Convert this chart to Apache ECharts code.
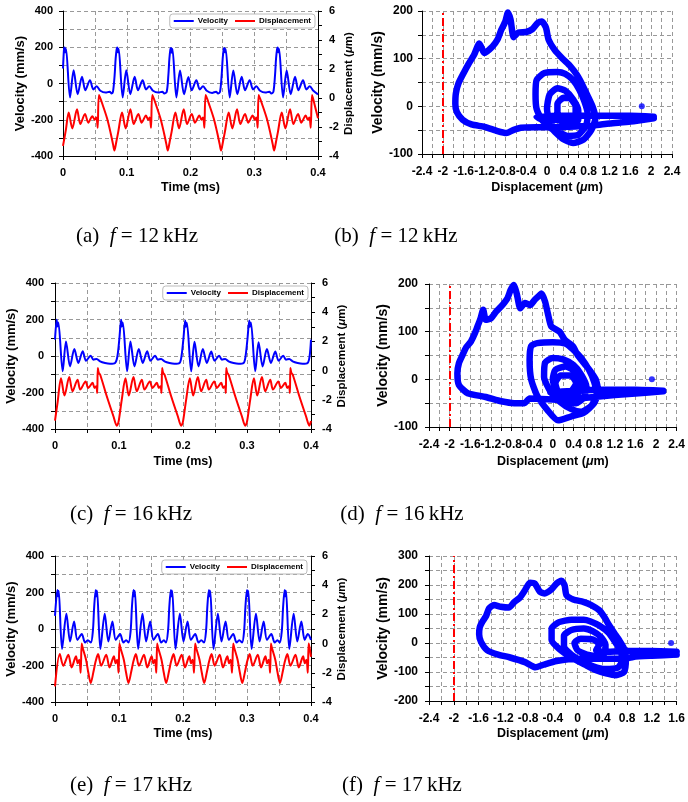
<!DOCTYPE html>
<html><head><meta charset="utf-8">
<script src="https://cdn.jsdelivr.net/npm/echarts@6/dist/echarts.min.js"></script>
<style>html,body{margin:0;padding:0;background:#fff}#c{width:688px;height:802px}</style>
</head><body><div id="c"></div>
<script>
// ---------- DATA ----------
// (a) 12 kHz time traces: [time ms, velocity mm/s] and [time ms, displacement um]
const velA = [[0,83],[0.0016,190],[0.0026,198],[0.0036,172],[0.0047,192],[0.0110,-77],[0.0167,73],[0.0230,-59],[0.0298,37],[0.0350,-37],[0.0423,18],[0.0476,-33],[0.0528,-15],[0.0586,-40],[0.0669,-50],[0.0732,-45],[0.0763,-55],
[0.0784,-46],[0.0810,46],[0.0826,138],[0.0842,190],[0.0852,198],[0.0862,172],[0.0873,192],[0.0936,-77],[0.0993,73],[0.1056,-59],[0.1124,37],[0.1176,-37],[0.1249,18],[0.1302,-33],[0.1354,-15],[0.1412,-40],[0.1495,-50],[0.1558,-45],[0.1589,-55],
[0.1627,-46],[0.1653,46],[0.1669,138],[0.1685,190],[0.1695,196],[0.1705,170],[0.1716,192],[0.1779,-77],[0.1836,72],[0.1899,-59],[0.1967,36],[0.2019,-37],[0.2092,18],[0.2145,-33],[0.2197,-15],[0.2255,-40],[0.2338,-52],[0.2401,-45],[0.2432,-55],
[0.2463,-46],[0.2489,46],[0.2505,138],[0.2521,190],[0.2531,196],[0.2541,172],[0.2552,190],[0.2615,-77],[0.2672,72],[0.2735,-59],[0.2803,37],[0.2855,-37],[0.2928,18],[0.2981,-33],[0.3033,-15],[0.3091,-40],[0.3174,-50],[0.3237,-45],[0.3268,-55],
[0.3300,-46],[0.3326,46],[0.3342,138],[0.3358,190],[0.3368,198],[0.3378,172],[0.3389,192],[0.3452,-77],[0.3509,72],[0.3572,-59],[0.3640,37],[0.3692,-37],[0.3765,18],[0.3818,-33],[0.3870,-15],[0.3928,-40],[0.4,-60]];
const dispA = [[0,-3.3],[0.0045,-2.2],[0.0089,-1.0],[0.0146,-2.1],[0.0220,-0.78],[0.0272,-1.8],[0.0345,-1.1],[0.0397,-1.7],[0.0460,-1.25],[0.0497,-1.5],[0.0523,-1.35],[0.0544,-2.05],
[0.0565,0.2],[0.0628,-0.55],[0.0691,-1.4],[0.0748,-2.43],[0.0785,-3.2],[0.0806,-3.62],[0.0837,-3.0],[0.0868,-2.3],[0.0926,-1.0],[0.0983,-2.1],[0.1057,-0.78],[0.1109,-1.8],[0.1182,-1.1],[0.1234,-1.7],[0.1302,-1.2],[0.1334,-1.5],[0.1360,-1.35],[0.1381,-2.05],
[0.1402,0.2],[0.1465,-0.55],[0.1528,-1.4],[0.1585,-2.43],[0.1622,-3.2],[0.1643,-3.62],[0.1674,-3.0],[0.1705,-2.3],[0.1763,-1.0],[0.1820,-2.1],[0.1894,-0.78],[0.1946,-1.8],[0.2019,-1.1],[0.2071,-1.7],[0.2139,-1.2],[0.2171,-1.5],[0.2197,-1.35],[0.2218,-2.05],
[0.2238,0.2],[0.2301,-0.55],[0.2364,-1.4],[0.2421,-2.43],[0.2458,-3.2],[0.2479,-3.62],[0.2510,-3.0],[0.2541,-2.3],[0.2599,-1.0],[0.2656,-2.1],[0.2730,-0.78],[0.2782,-1.8],[0.2855,-1.1],[0.2907,-1.7],[0.2975,-1.2],[0.3007,-1.5],[0.3033,-1.35],[0.3054,-2.05],
[0.3070,0.2],[0.3133,-0.55],[0.3196,-1.4],[0.3253,-2.43],[0.3290,-3.2],[0.3311,-3.62],[0.3342,-3.0],[0.3373,-2.3],[0.3431,-1.0],[0.3488,-2.1],[0.3562,-0.78],[0.3614,-1.8],[0.3687,-1.1],[0.3739,-1.7],[0.3807,-1.2],[0.3839,-1.5],[0.3865,-1.35],[0.3886,-2.05],
[0.3907,0.2],[0.3949,-0.5],[0.4,-1.4]];

// (c) 16 kHz
const velC = [[0,90],[0.0026,199],[0.0036,162],[0.0052,184],[0.0120,-84],[0.0172,80],[0.0235,-57],[0.0302,38],[0.0365,-38],[0.0433,26],[0.0485,-26],[0.0558,2],[0.0600,-20],[0.0652,-16],[0.0704,-29],[0.0782,-38],[0.0860,-42],[0.0939,-38],[0.0976,0],[0.1007,100],
[0.1033,199],[0.1043,162],[0.1059,184],[0.1127,-84],[0.1179,80],[0.1242,-57],[0.1309,38],[0.1372,-38],[0.1440,26],[0.1492,-26],[0.1565,2],[0.1607,-20],[0.1659,-16],[0.1711,-29],[0.1789,-38],[0.1867,-42],[0.1946,-38],[0.1977,0],[0.2008,100],
[0.2034,195],[0.2044,160],[0.2060,182],[0.2128,-84],[0.2180,78],[0.2243,-57],[0.2310,38],[0.2373,-38],[0.2441,24],[0.2493,-26],[0.2566,2],[0.2608,-20],[0.2660,-16],[0.2712,-29],[0.2790,-38],[0.2868,-42],[0.2947,-38],[0.2978,0],[0.3009,100],
[0.3035,195],[0.3045,160],[0.3061,184],[0.3129,-84],[0.3181,76],[0.3244,-57],[0.3311,38],[0.3374,-38],[0.3442,24],[0.3494,-26],[0.3567,2],[0.3609,-20],[0.3661,-16],[0.3713,-29],[0.3791,-38],[0.3869,-42],[0.3948,-38],[0.3979,0],[0.4,90]];
const dispC = [[0,-3.42],[0.0040,-2.2],[0.0094,-0.53],[0.0149,-1.71],[0.0222,-0.43],[0.0274,-1.42],[0.0352,-0.62],[0.0394,-1.3],[0.0478,-0.75],[0.0519,-1.19],[0.0587,-0.84],[0.0618,-1.19],[0.0644,-1.07],[0.0660,-1.53],
[0.0668,0.18],[0.0684,-0.16],[0.0705,-0.27],[0.0809,-1.76],[0.0913,-3.13],[0.0965,-3.77],[0.0991,-3.55],[0.1043,-2.0],[0.1101,-0.53],[0.1153,-1.71],[0.1226,-0.43],[0.1278,-1.42],[0.1356,-0.62],[0.1398,-1.3],[0.1482,-0.75],[0.1523,-1.19],[0.1591,-0.84],[0.1622,-1.19],[0.1648,-1.07],[0.1664,-1.53],
[0.1674,0.18],[0.1690,-0.16],[0.1711,-0.27],[0.1815,-1.76],[0.1919,-3.13],[0.1971,-3.77],[0.1997,-3.55],[0.2049,-2.0],[0.2107,-0.53],[0.2159,-1.71],[0.2232,-0.43],[0.2284,-1.42],[0.2362,-0.62],[0.2404,-1.3],[0.2488,-0.75],[0.2529,-1.19],[0.2597,-0.84],[0.2628,-1.19],[0.2654,-1.07],[0.2670,-1.53],
[0.2675,0.18],[0.2691,-0.16],[0.2712,-0.27],[0.2816,-1.76],[0.2920,-3.13],[0.2972,-3.77],[0.2998,-3.55],[0.3050,-2.0],[0.3108,-0.53],[0.3160,-1.71],[0.3233,-0.43],[0.3285,-1.42],[0.3363,-0.62],[0.3405,-1.3],[0.3489,-0.75],[0.3530,-1.19],[0.3598,-0.84],[0.3629,-1.19],[0.3655,-1.07],[0.3671,-1.53],
[0.3677,0.18],[0.3693,-0.16],[0.3714,-0.27],[0.3818,-1.76],[0.3922,-3.13],[0.3974,-3.77],[0.4,-3.45]];

// (e) 17 kHz
const velE = [[0,72],[0.0037,214],[0.0047,180],[0.0058,210],[0.0110,-110],[0.0178,83],[0.0235,-69],[0.0298,41],[0.0350,-60],[0.0418,-28],[0.0470,-74],[0.0512,-62],[0.0560,-74],[0.0592,-10],[0.0612,120],
[0.0636,214],[0.0646,180],[0.0657,210],[0.0709,-110],[0.0777,83],[0.0834,-69],[0.0897,41],[0.0949,-60],[0.1017,-28],[0.1069,-74],[0.1111,-62],[0.1150,-74],[0.1182,-10],[0.1202,120],
[0.1226,214],[0.1236,180],[0.1247,210],[0.1299,-110],[0.1367,83],[0.1424,-69],[0.1487,41],[0.1539,-60],[0.1607,-28],[0.1659,-74],[0.1701,-62],[0.1734,-74],[0.1766,-10],[0.1786,120],
[0.1810,214],[0.1820,180],[0.1831,210],[0.1883,-110],[0.1951,83],[0.2008,-69],[0.2071,41],[0.2123,-60],[0.2191,-28],[0.2243,-74],[0.2285,-62],[0.2328,-74],[0.2360,-10],[0.2380,120],
[0.2404,214],[0.2414,180],[0.2425,210],[0.2477,-110],[0.2545,83],[0.2602,-69],[0.2665,41],[0.2717,-60],[0.2785,-28],[0.2837,-74],[0.2879,-62],[0.2923,-74],[0.2955,-10],[0.2975,120],
[0.2999,214],[0.3009,180],[0.3020,210],[0.3072,-110],[0.3140,83],[0.3197,-69],[0.3260,41],[0.3312,-60],[0.3380,-28],[0.3432,-74],[0.3474,-62],[0.3512,-74],[0.3544,-10],[0.3564,120],
[0.3588,214],[0.3598,180],[0.3609,210],[0.3661,-110],[0.3729,83],[0.3786,-69],[0.3849,41],[0.3901,-60],[0.3950,-28],[0.4,-60]];
const dispE = [[0,-2.93],[0.0075,-0.72],[0.0130,-1.52],[0.0208,-0.76],[0.0260,-1.63],[0.0328,-0.87],[0.0354,-1.35],[0.0380,-1.1],[0.0401,-2.0],
[0.0417,0.0],[0.0433,-0.3],[0.0485,-1.1],[0.0521,-2.0],[0.0558,-2.7],[0.0600,-1.95],[0.0636,-1.2],[0.0673,-0.72],[0.0722,-1.52],[0.0800,-0.76],[0.0852,-1.63],[0.0920,-0.87],[0.0946,-1.35],[0.0972,-1.1],[0.0993,-2.0],
[0.1007,0.0],[0.1023,-0.3],[0.1075,-1.1],[0.1111,-2.0],[0.1148,-2.7],[0.1190,-1.95],[0.1226,-1.2],[0.1263,-0.72],[0.1312,-1.52],[0.1390,-0.76],[0.1442,-1.63],[0.1510,-0.87],[0.1536,-1.35],[0.1562,-1.1],[0.1583,-2.0],
[0.1596,0.0],[0.1612,-0.3],[0.1664,-1.1],[0.1700,-2.0],[0.1737,-2.7],[0.1779,-1.95],[0.1815,-1.2],[0.1852,-0.72],[0.1901,-1.52],[0.1979,-0.76],[0.2031,-1.63],[0.2099,-0.87],[0.2125,-1.35],[0.2151,-1.1],[0.2172,-2.0],
[0.2190,0.0],[0.2206,-0.3],[0.2258,-1.1],[0.2294,-2.0],[0.2331,-2.7],[0.2373,-1.95],[0.2409,-1.2],[0.2446,-0.72],[0.2495,-1.52],[0.2573,-0.76],[0.2625,-1.63],[0.2693,-0.87],[0.2719,-1.35],[0.2745,-1.1],[0.2766,-2.0],
[0.2785,0.0],[0.2801,-0.3],[0.2853,-1.1],[0.2889,-2.0],[0.2926,-2.7],[0.2968,-1.95],[0.3004,-1.2],[0.3041,-0.72],[0.3090,-1.52],[0.3168,-0.76],[0.3220,-1.63],[0.3288,-0.87],[0.3314,-1.35],[0.3340,-1.1],[0.3361,-2.0],
[0.3374,0.0],[0.3390,-0.3],[0.3442,-1.1],[0.3478,-2.0],[0.3515,-2.7],[0.3557,-1.95],[0.3593,-1.2],[0.3630,-0.72],[0.3679,-1.52],[0.3757,-0.76],[0.3809,-1.63],[0.3877,-0.87],[0.3903,-1.35],[0.3929,-1.1],[0.3950,-2.0],
[0.3963,0.0],[0.3979,-0.3],[0.4,-0.9]];

// Phase portraits: [displacement um, velocity mm/s]
const phaseB = [[2.05,-25],[1.6,-32],[1.2,-36],[0.9,-40],[0.6,-42],[0.2,-44],[-0.2,-44],[-0.5,-45],[-0.65,-50],[-0.78,-56],[-0.95,-52],[-1.2,-43],[-1.45,-38],[-1.62,-28],[-1.73,-12],[-1.76,5],[-1.75,27],[-1.7,48],[-1.6,70],[-1.5,90],[-1.4,108],[-1.3,132],[-1.2,112],[-1.05,125],[-0.95,140],[-0.88,160],[-0.8,178],[-0.75,197],[-0.7,182],[-0.64,145],[-0.55,155],[-0.4,156],[-0.28,162],[-0.18,175],[-0.1,178],[-0.02,165],[0.03,140],[0.15,118],[0.3,100],[0.45,84],[0.58,65],[0.68,45],[0.78,22],[0.88,-2],[0.93,-25],[0.85,-50],[0.7,-70],[0.5,-77],[0.3,-68],[0.1,-48],[-0.1,-28],[-0.2,-5],[-0.22,25],[-0.2,55],[-0.05,70],[0.2,72],[0.35,68],[0.5,55],[0.62,35],[0.72,10],[0.78,-15],[0.75,-40],[0.6,-60],[0.4,-62],[0.2,-52],[0.05,-32],[0.0,-5],[0.05,25],[0.2,38],[0.35,33],[0.5,15],[0.6,-8],[0.6,-28],[0.48,-40],[0.3,-36],[0.2,-18],[0.2,5],[0.32,18],[0.45,16],[0.55,0],[0.55,-20],[0.45,-32],[0.3,-30],[0.15,-28],[0.0,-30],[-0.1,-28],[-0.2,-22],[0.3,-20],[1.0,-20],[1.6,-20],[2.05,-22]];
const dotB = [[1.82,0]];
const phaseD = [[2.14,-25],[1.6,-30],[1.2,-33],[0.9,-36],[0.5,-40],[0.1,-43],[-0.3,-41],[-0.45,-40],[-0.55,-50],[-0.75,-50],[-1.0,-46],[-1.3,-37],[-1.65,-29],[-1.82,-12],[-1.85,13],[-1.82,34],[-1.75,51],[-1.68,67],[-1.59,79],[-1.51,97],[-1.46,111],[-1.4,128],[-1.35,146],[-1.3,125],[-1.2,128],[-1.1,142],[-1.0,153],[-0.88,170],[-0.82,187],[-0.76,198],[-0.7,180],[-0.63,149],[-0.54,160],[-0.44,156],[-0.35,167],[-0.25,177],[-0.22,180],[-0.15,163],[-0.09,135],[-0.03,111],[0.13,100],[0.23,83],[0.39,69],[0.48,51],[0.58,37],[0.71,20],[0.83,0],[0.88,-25],[0.8,-50],[0.6,-70],[0.35,-78],[0.1,-86],[-0.1,-65],[-0.3,-35],[-0.42,0],[-0.45,40],[-0.42,70],[-0.3,76],[0.0,78],[0.25,75],[0.4,62],[0.55,45],[0.7,20],[0.8,-5],[0.85,-30],[0.75,-55],[0.55,-68],[0.35,-62],[0.15,-48],[-0.05,-25],[-0.17,5],[-0.15,35],[0.0,45],[0.2,42],[0.4,30],[0.55,10],[0.65,-15],[0.6,-38],[0.45,-50],[0.2,-40],[0.05,-20],[0.0,0],[0.05,20],[0.25,27],[0.45,15],[0.55,-5],[0.5,-28],[0.3,-35],[0.1,-25],[0.05,-8],[0.15,8],[0.35,8],[0.45,-8],[0.35,-25],[0.15,-30],[-0.05,-28],[0.4,-24],[1.0,-22],[1.6,-22],[2.14,-24]];
const dotD = [[1.92,0]];
const phaseF = [[1.6,-40],[1.2,-44],[0.9,-48],[0.78,-54],[0.4,-54],[0.0,-54],[-0.34,-62],[-0.55,-75],[-0.68,-84],[-0.85,-66],[-1.09,-50],[-1.3,-39],[-1.46,-25],[-1.56,4],[-1.59,30],[-1.58,54],[-1.54,73],[-1.48,92],[-1.43,119],[-1.35,131],[-1.24,125],[-1.11,122],[-1.02,142],[-0.93,157],[-0.85,182],[-0.77,208],[-0.69,205],[-0.61,177],[-0.53,171],[-0.42,185],[-0.34,205],[-0.26,215],[-0.21,199],[-0.18,165],[-0.07,150],[0.09,142],[0.22,131],[0.35,113],[0.43,90],[0.51,61],[0.59,35],[0.67,10],[0.75,-19],[0.78,-56],[0.75,-100],[0.62,-111],[0.46,-105],[0.3,-94],[0.14,-77],[-0.1,-50],[-0.3,-20],[-0.42,10],[-0.42,50],[-0.3,72],[-0.1,80],[0.1,80],[0.2,75],[0.35,60],[0.5,35],[0.6,5],[0.7,-30],[0.72,-60],[0.65,-85],[0.45,-90],[0.25,-80],[0.05,-60],[-0.1,-40],[-0.22,-10],[-0.22,25],[-0.1,45],[0.1,50],[0.25,40],[0.38,20],[0.45,-5],[0.45,-30],[0.35,-45],[0.15,-40],[0.0,-25],[-0.05,0],[0.05,15],[0.25,12],[0.35,-5],[0.3,-25],[0.4,-30],[0.8,-28],[1.2,-28],[1.6,-30]];
const dotF = [[1.51,0]];

const limitLine = -2;
const capTags = ['(a)','(b)','(c)','(d)','(e)','(f)'];
const capFreq = ['12','12','16','16','17','17'];

// ---------- STYLE / LAYOUT ----------
const FONT = "'Liberation Sans', Arial, sans-serif";
const BLUE = '#0000ff', RED = '#ff0000';
const gridLine = {show:true, lineStyle:{color:'#999', type:[4,3], width:1}};
const lbl = (fmt, margin, size) => ({formatter: fmt, margin: margin, color:'#000', fontWeight:'bold', fontSize:size, fontFamily:FONT});
const titleStyle = (size) => ({color:'#000', fontWeight:'bold', fontSize:size, fontFamily:FONT});
const dispName = '{t|Displacement (}{m|\u03bc}{t|m)}';
const dispStyle = (size) => ({rich:{t:{fontWeight:'bold', fontSize:size, fontFamily:FONT, color:'#000'}, m:{fontStyle:'italic', fontWeight:'bold', fontSize:size, fontFamily:FONT, color:'#000'}}});

const fmtTime = v => { const k = Math.round(v*100); return k % 10 === 0 ? String(k/100) : ''; };
const fmtVel = v => { const k = Math.round(v); return k % 200 === 0 ? String(k) : ''; };
const fmtDisp = v => { const k = Math.round(v); return k % 2 === 0 ? String(k) : ''; };
const fmtPX = v => { const k = Math.round(v*10); return k % 4 === 0 ? String(k/10) : ''; };
const fmtPY = v => { const k = Math.round(v); return k % 100 === 0 ? String(k) : ''; };

const axLine = {show:true, onZero:false, lineStyle:{color:'#000', width:1}};
const tick = {show:true, length:4, lineStyle:{color:'#000'}};

function timeX(g, gap) {
  return {type:'value', gridIndex:g, min:0, max:0.4, interval:0.05, name:'Time (ms)', nameLocation:'middle', nameGap:gap,
    nameTextStyle:titleStyle(12.5), axisLine:axLine, axisTick:tick, axisLabel:lbl(fmtTime, 11, 11), splitLine:gridLine};
}
function velY(g, gap, margin) {
  return {type:'value', gridIndex:g, position:'left', min:-400, max:400, interval:100, name:'Velocity (mm/s)', nameLocation:'middle', nameRotate:90, nameGap:gap,
    nameTextStyle:titleStyle(13), axisLine:axLine, axisTick:tick, axisLabel:lbl(fmtVel, margin, 11), splitLine:gridLine};
}
function dispY(g, gap) {
  return {type:'value', gridIndex:g, position:'right', min:-4, max:6, interval:1, name:dispName, nameLocation:'middle', nameRotate:90, nameGap:gap,
    nameTextStyle:dispStyle(11.5), axisLine:axLine, axisTick:tick, axisLabel:lbl(fmtDisp, 11, 11), splitLine:{show:false}};
}
function phaseX(g, max, gap, margin) {
  return {type:'value', gridIndex:g, min:-2.4, max:max, interval:0.2, name:dispName, nameLocation:'middle', nameGap:gap,
    nameTextStyle:dispStyle(12.5), axisLine:axLine, axisTick:tick, axisLabel:lbl(fmtPX, margin, 12), splitLine:gridLine};
}
function phaseY(g, min, max, gap, margin) {
  return {type:'value', gridIndex:g, min:min, max:max, interval:50, name:'Velocity (mm/s)', nameLocation:'middle', nameRotate:90, nameGap:gap,
    nameTextStyle:titleStyle(14), axisLine:axLine, axisTick:tick, axisLabel:lbl(fmtPY, margin, 12), splitLine:gridLine};
}
function timeSeries(xi, yv, yd, v, d) {
  return [
    {type:'line', name:'Velocity', xAxisIndex:xi, yAxisIndex:yv, data:v, symbol:'none', showSymbol:false, smooth:0.3, lineStyle:{color:BLUE, width:2}, itemStyle:{color:BLUE}, z:3},
    {type:'line', name:'Displacement', xAxisIndex:xi, yAxisIndex:yd, data:d, symbol:'none', showSymbol:false, smooth:0.3, lineStyle:{color:RED, width:2}, itemStyle:{color:RED}, z:3}
  ];
}
function phaseSeries(xi, yi, p, dot) {
  return [
    {type:'line', name:'phase'+xi, xAxisIndex:xi, yAxisIndex:yi, data:p, symbol:'none', smooth:0.2,
      lineStyle:{color:BLUE, width:6.5, cap:'round', join:'round'}, z:3,
      markLine:{silent:true, symbol:'none', label:{show:false}, animation:false,
        lineStyle:{color:RED, width:2, type:[8,3,2,3]}, data:[{xAxis:limitLine}]}},
    {type:'scatter', name:'dot'+xi, xAxisIndex:xi, yAxisIndex:yi, data:dot, symbolSize:6, itemStyle:{color:BLUE}, z:4}
  ];
}
function legendAt(right, top) {
  return {data:['Velocity','Displacement'], right:right, top:top, orient:'horizontal', icon:'rect', itemWidth:20, itemHeight:2, itemGap:7,
    padding:[3,4,3,4], backgroundColor:'#fff', borderColor:'#bbb', borderWidth:1, borderRadius:3,
    textStyle:{fontSize:8, fontWeight:'bold', fontFamily:FONT, color:'#000', padding:[0,0,0,-1]}};
}

const capPos = [[137,236],[396,236],[131,514],[402,514],[131,785],[402,785]];
const graphics = capTags.map((t, i) => ({
  type:'text', x:capPos[i][0], y:capPos[i][1],
  style:{text:'{n|' + t + '}  {i|f}{n| = ' + capFreq[i] + '\u2009kHz}', textAlign:'center', align:'center', textVerticalAlign:'middle', verticalAlign:'middle',
    fontFamily:'Liberation Serif', fontSize:21, fill:'#000',
    rich:{n:{fontFamily:'Liberation Serif', fontSize:21, fill:'#000'}, i:{fontFamily:'Liberation Serif', fontStyle:'italic', fontSize:21, fill:'#000'}}}
}));

const option = {
  animation:false,
  backgroundColor:'#fff',
  grid:[
    {left:63, top:11, width:255, height:145},
    {left:422, top:11, width:250, height:143},
    {left:55, top:283, width:256, height:146},
    {left:429, top:284, width:251, height:143},
    {left:55, top:556, width:256, height:146},
    {left:429, top:556, width:251, height:145}
  ],
  xAxis:[ timeX(0,25), phaseX(1,2.4,27,12), timeX(2,26), phaseX(3,2.4,28,12), timeX(4,25), phaseX(5,1.6,26,12) ],
  yAxis:[ velY(0,34,10), dispY(0,22), phaseY(1,-100,200,33,9),
          velY(2,35,11), dispY(2,22), phaseY(3,-100,200,36,11),
          velY(4,35,11), dispY(4,22), phaseY(5,-200,300,36,11) ],
  legend:[ legendAt(373,14), legendAt(380,286), legendAt(381,560) ],
  series:[].concat(
    timeSeries(0,0,1,velA,dispA), phaseSeries(1,2,phaseB,dotB),
    timeSeries(2,3,4,velC,dispC), phaseSeries(3,5,phaseD,dotD),
    timeSeries(4,6,7,velE,dispE), phaseSeries(5,8,phaseF,dotF)
  ),
  graphic:graphics
};
const chart = echarts.init(document.getElementById('c'), null, {renderer:'canvas'});
chart.setOption(option);
</script></body></html>
